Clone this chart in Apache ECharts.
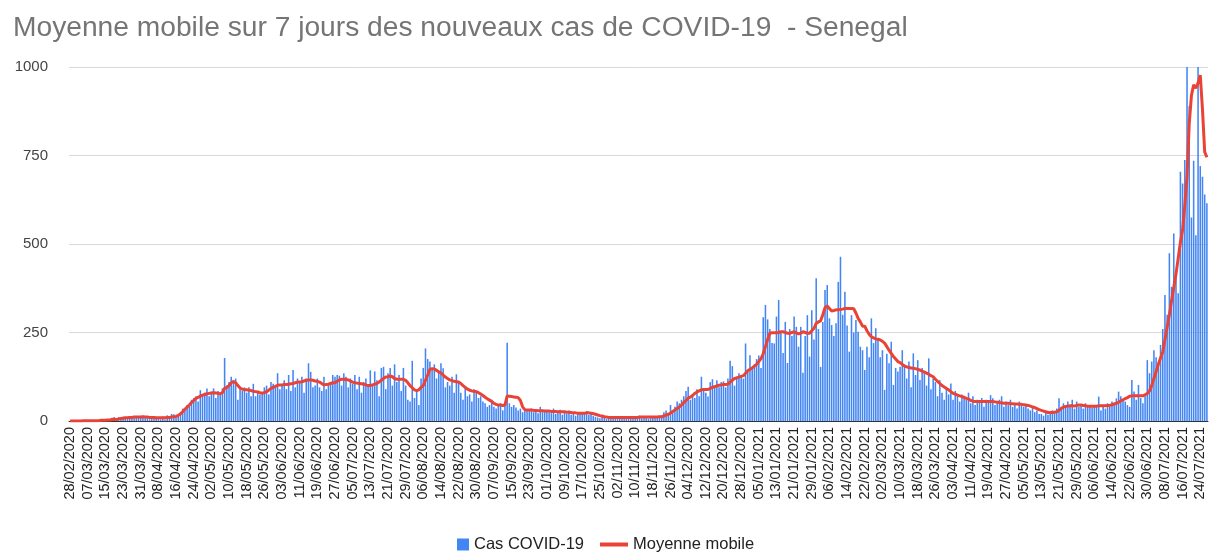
<!DOCTYPE html>
<html>
<head>
<meta charset="utf-8">
<script src="https://cdn.jsdelivr.net/npm/echarts@6/dist/echarts.min.js"></script>
<style>
  html, body { margin: 0; padding: 0; background: #fff; }
  #chart { width: 1210px; height: 552px; }
</style>
</head>
<body>
<div id="chart"></div>
<script>
// first day of the series, one category per day
const startDay = [2020, 2, 28]
const dayCount = 516

// daily new cases, one row per 8 days (one x label per row)
const cases = [
  0, 0, 0, 1, 0, 1, 2, 0,
  0, 0, 0, 0, 1, 2, 6, 3,
  3, 5, 0, 9, 11, 2, 11, 9,
  12, 12, 6, 14, 11, 12, 9, 12,
  13, 15, 10, 12, 5, 9, 7, 11,
  9, 5, 13, 4, 16, 14, 20, 19,
  10, 15, 25, 35, 30, 45, 40, 60,
  65, 70, 55, 87, 75, 80, 92, 70,
  83, 92, 65, 85, 78, 92, 178, 100,
  110, 125, 115, 120, 60, 90, 85, 95,
  80, 95, 70, 105, 70, 85, 75, 80,
  95, 100, 75, 110, 105, 95, 135, 90,
  100, 115, 90, 130, 85, 144, 95, 120,
  110, 125, 80, 120, 163, 139, 95, 100,
  120, 95, 85, 125, 90, 105, 110, 130,
  125, 130, 128, 100, 135, 125, 95, 120,
  105, 130, 90, 125, 80, 110, 120, 100,
  143, 100, 140, 115, 70, 150, 153, 90,
  135, 150, 100, 160, 110, 130, 85, 150,
  100, 60, 55, 170, 65, 90, 45, 120,
  150, 205, 175, 168, 150, 160, 120, 140,
  163, 149, 95, 110, 100, 125, 80, 132,
  110, 80, 60, 95, 70, 75, 55, 90,
  85, 65, 70, 55, 50, 40, 45, 60,
  40, 35, 45, 50, 30, 45, 221, 50,
  40, 45, 38, 30, 35, 25, 30, 28,
  30, 35, 25, 28, 22, 40, 25, 30,
  30, 25, 22, 35, 20, 28, 32, 18,
  25, 20, 30, 18, 25, 15, 22, 20,
  25, 20, 28, 18, 22, 15, 12, 10,
  8, 12, 10, 6, 9, 12, 8, 10,
  10, 8, 14, 7, 12, 9, 11, 6,
  12, 9, 15, 8, 10, 14, 7, 11,
  10, 12, 9, 15, 14, 25, 30, 20,
  45, 30, 40, 55, 50, 60, 70, 85,
  97, 60, 75, 65, 90, 70, 125, 85,
  80, 69, 110, 118, 100, 115, 95, 110,
  112, 95, 120, 170, 155, 100, 125, 135,
  130, 120, 219, 140, 186, 150, 160, 175,
  185, 150, 293, 328, 287, 260, 220, 219,
  295, 342, 250, 192, 280, 164, 260, 240,
  295, 266, 210, 266, 136, 240, 299, 182,
  313, 230, 403, 260, 153, 280, 370, 384,
  290, 271, 240, 276, 393, 464, 300, 365,
  270, 196, 299, 250, 285, 252, 210, 200,
  144, 210, 180, 290, 220, 262, 234, 180,
  200, 88, 190, 163, 224, 102, 150, 140,
  153, 200, 160, 120, 168, 95, 191, 130,
  172, 116, 150, 135, 100, 177, 90, 120,
  110, 70, 115, 80, 60, 90, 75, 106,
  60, 85, 70, 55, 75, 65, 60, 80,
  50, 70, 45, 60, 55, 65, 40, 60,
  55, 73, 64, 45, 50, 60, 70, 40,
  55, 45, 60, 40, 50, 35, 55, 45,
  40, 45, 35, 30, 40, 25, 30, 20,
  20, 15, 25, 18, 22, 30, 28, 35,
  64, 40, 50, 45, 55, 40, 60, 35,
  55, 40, 45, 35, 50, 40, 45, 38,
  40, 45, 69, 30, 45, 35, 50, 40,
  55, 45, 64, 83, 70, 60, 55, 45,
  40, 116, 83, 60, 102, 65, 50, 70,
  172, 135, 168, 200, 180, 160, 215, 260,
  356, 300, 474, 379, 530, 420, 361, 704,
  671, 737, 1150, 890, 575, 735, 525, 1400,
  720, 690, 640, 615
]

// 7-day moving average as drawn on the chart
const movingAvg = [
  0, 0, 0, 0, 0, 0, 1, 1,
  1, 1, 1, 1, 1, 1, 2, 2,
  2, 3, 3, 4, 5, 4, 6, 7,
  8, 9, 9, 10, 10, 11, 11, 11,
  11, 12, 11, 11, 10, 10, 10, 9,
  9, 9, 9, 9, 10, 10, 11, 12,
  13, 16, 20, 26, 33, 39, 45, 52,
  58, 64, 67, 70, 73, 75, 77, 78,
  79, 80, 79, 78, 77, 80, 92, 95,
  100, 108, 111, 108, 100, 93, 90, 88,
  88, 87, 86, 84, 83, 82, 80, 79,
  80, 83, 87, 92, 95, 98, 101, 102,
  102, 103, 103, 104, 105, 106, 108, 110,
  110, 111, 113, 115, 116, 116, 115, 113,
  112, 110, 106, 102, 103, 104, 106, 108,
  108, 112, 116, 118, 118, 117, 116, 113,
  110, 108, 107, 106, 105, 104, 102, 100,
  100, 102, 104, 106, 110, 115, 120, 124,
  125, 127, 125, 120, 118, 118, 118, 118,
  115, 108, 100, 94, 88, 86, 88, 95,
  100, 115, 130, 146, 148, 147, 143, 139,
  136, 130, 124, 120, 116, 114, 112, 111,
  110, 106, 100, 95, 90, 87, 85, 84,
  83, 80, 76, 72, 67, 63, 59, 55,
  50, 47, 45, 45, 44, 45, 71, 70,
  69, 68, 67, 66, 58, 40, 32, 31,
  31, 31, 30, 30, 29, 29, 29, 28,
  28, 28, 27, 27, 27, 26, 26, 26,
  26, 25, 25, 24, 23, 23, 22, 22,
  22, 22, 23, 23, 22, 21, 19, 17,
  15, 14, 12, 11, 10, 10, 10, 10,
  10, 10, 10, 10, 10, 10, 10, 10,
  10, 10, 11, 11, 11, 11, 11, 11,
  11, 11, 11, 12, 12, 14, 17, 19,
  22, 27, 31, 35, 40, 45, 52, 58,
  64, 68, 72, 78, 82, 85, 88, 89,
  89, 89, 92, 95, 97, 99, 101, 102,
  103, 103, 104, 110, 115, 120, 122, 124,
  126, 128, 135, 142, 146, 150, 155, 160,
  168, 176, 190, 210, 230, 248, 249, 249,
  249, 250, 252, 252, 250, 248, 248, 250,
  252, 249, 246, 248, 252, 250, 248, 248,
  255, 262, 276, 280, 283, 300, 320, 325,
  318, 311, 312, 314, 314, 315, 316, 318,
  318, 318, 318, 317, 305, 290, 280, 268,
  268, 255, 245, 238, 235, 232, 231, 229,
  225, 220, 210, 200, 191, 182, 175, 168,
  165, 160, 155, 153, 151, 150, 149, 148,
  146, 144, 141, 138, 135, 132, 128, 125,
  118, 112, 106, 100, 96, 92, 88, 83,
  78, 76, 73, 71, 69, 67, 64, 62,
  58, 56, 55, 55, 55, 55, 55, 55,
  55, 55, 55, 54, 53, 52, 51, 50,
  50, 50, 49, 49, 48, 48, 47, 47,
  46, 45, 44, 42, 40, 38, 35, 32,
  30, 28, 26, 24, 24, 24, 25, 26,
  30, 35, 39, 41, 42, 43, 43, 42,
  44, 45, 45, 44, 43, 42, 42, 42,
  42, 42, 43, 43, 43, 43, 44, 44,
  46, 48, 50, 53, 57, 60, 63, 66,
  70, 71, 71, 71, 71, 71, 71, 74,
  78, 85, 100, 120, 140, 160, 178, 195,
  230, 265, 300, 340, 378, 415, 460, 505,
  540, 610, 690, 840, 920, 950, 940, 955,
  977, 880, 760, 745
]

const yTicks = [0, 250, 500, 750, 1000]

function pad (n) {
  return n < 10 ? '0' + n : '' + n
}

const days = []
for (let i = 0; i < dayCount; i++) {
  const d = new Date(Date.UTC(startDay[0], startDay[1] - 1, startDay[2] + i))
  days.push(pad(d.getUTCDate()) + '/' + pad(d.getUTCMonth() + 1) + '/' + d.getUTCFullYear())
}

const font = 'Arial, "Liberation Sans", sans-serif'
const chart = echarts.init(document.getElementById('chart'), null, { renderer: 'canvas' })

chart.setOption({
  animation: false,
  title: {
    text: 'Moyenne mobile sur 7 jours des nouveaux cas de COVID-19  - Senegal',
    left: 8,
    top: 9,
    textStyle: { color: '#757575', fontSize: 28.2, fontWeight: 'normal', fontFamily: font }
  },
  legend: [
    {
      data: [{ name: 'Cas COVID-19', icon: 'rect' }],
      left: 452,
      top: 531,
      itemWidth: 12,
      itemHeight: 12,
      itemGap: 5,
      textStyle: { color: '#222', fontSize: 16.5, fontFamily: font }
    },
    {
      data: [{ name: 'Moyenne mobile', icon: 'rect' }],
      left: 595,
      top: 531,
      itemWidth: 28,
      itemHeight: 4,
      itemGap: 5,
      textStyle: { color: '#222', fontSize: 16.5, fontFamily: font }
    }
  ],
  grid: { left: 69, right: 2, top: 67, bottom: 131, containLabel: false },
  xAxis: {
    type: 'category',
    data: days,
    boundaryGap: true,
    axisTick: { show: false },
    axisLine: { lineStyle: { color: '#333', width: 1 } },
    axisLabel: {
      interval: 7,
      rotate: 90,
      color: '#222',
      fontSize: 14.5,
      fontFamily: font,
      margin: 6
    }
  },
  yAxis: {
    type: 'value',
    min: yTicks[0],
    max: yTicks[yTicks.length - 1],
    interval: yTicks[1] - yTicks[0],
    axisLine: { show: false },
    axisTick: { show: false },
    splitLine: { lineStyle: { color: '#d9d9d9' } },
    axisLabel: {
      color: '#444',
      fontSize: 15,
      fontFamily: font,
      margin: 21,
      formatter: function (v) { return String(v) }
    }
  },
  series: [
    {
      name: 'Cas COVID-19',
      type: 'bar',
      data: cases,
      clip: true,
      barCategoryGap: '30%',
      itemStyle: { color: '#4285F4' }
    },
    {
      name: 'Moyenne mobile',
      type: 'line',
      data: movingAvg,
      clip: true,
      showSymbol: false,
      symbol: 'none',
      lineStyle: { color: '#EA4335', width: 3 },
      itemStyle: { color: '#EA4335' }
    }
  ]
})
</script>
</body>
</html>
